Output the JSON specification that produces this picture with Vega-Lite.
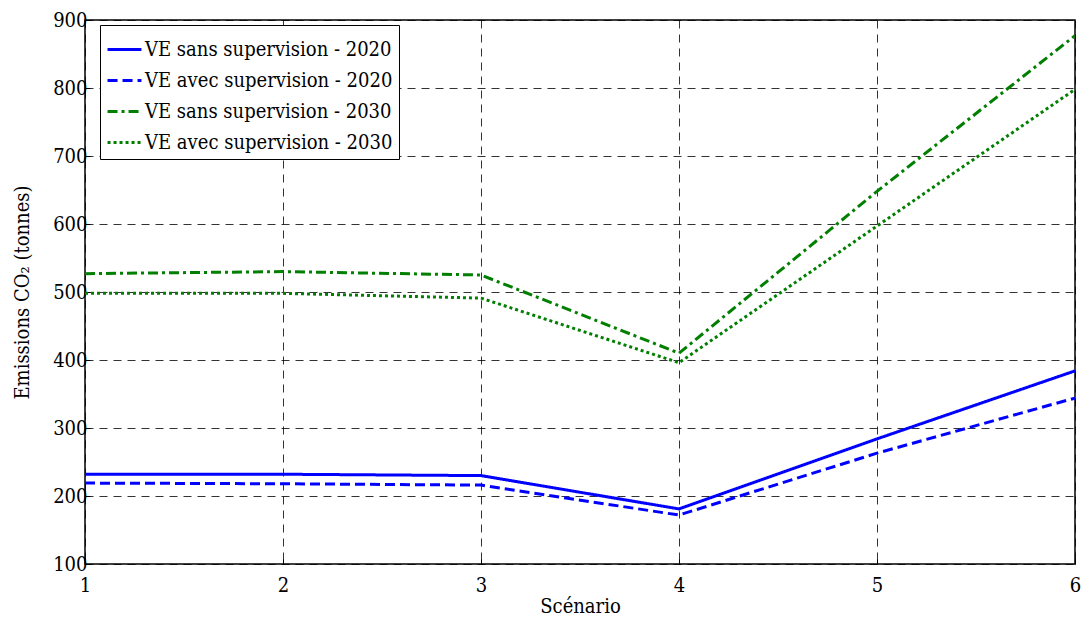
{
  "$schema": "https://vega.github.io/schema/vega-lite/v6.json",
  "width": 990,
  "height": 544,
  "autosize": {"type": "none"},
  "padding": {"left": 85, "top": 20, "right": 8, "bottom": 57},
  "background": "white",
  "config": {
    "font": "DejaVu Serif Condensed",
    "view": {"stroke": "black", "strokeWidth": 1.5},
    "axis": {
      "grid": true,
      "gridColor": "black",
      "gridDash": [8, 6],
      "gridOpacity": 0.8,
      "gridWidth": 1,
      "domain": false,
      "tickColor": "black",
      "tickSize": 5,
      "labelColor": "black",
      "titleColor": "black",
      "labelFont": "DejaVu Serif Condensed",
      "titleFont": "DejaVu Serif Condensed",
      "labelFontSize": 20,
      "titleFontSize": 20,
      "titleFontWeight": "normal"
    }
  },
  "data": {
    "values": [
      {"scenario": 1, "v": 232, "serie": "VE sans supervision - 2020"},
      {"scenario": 2, "v": 232, "serie": "VE sans supervision - 2020"},
      {"scenario": 3, "v": 230, "serie": "VE sans supervision - 2020"},
      {"scenario": 4, "v": 181, "serie": "VE sans supervision - 2020"},
      {"scenario": 5, "v": 284, "serie": "VE sans supervision - 2020"},
      {"scenario": 6, "v": 384, "serie": "VE sans supervision - 2020"},
      {"scenario": 1, "v": 219, "serie": "VE avec supervision - 2020"},
      {"scenario": 2, "v": 218, "serie": "VE avec supervision - 2020"},
      {"scenario": 3, "v": 216, "serie": "VE avec supervision - 2020"},
      {"scenario": 4, "v": 172, "serie": "VE avec supervision - 2020"},
      {"scenario": 5, "v": 263, "serie": "VE avec supervision - 2020"},
      {"scenario": 6, "v": 344, "serie": "VE avec supervision - 2020"},
      {"scenario": 1, "v": 527, "serie": "VE sans supervision - 2030"},
      {"scenario": 2, "v": 530, "serie": "VE sans supervision - 2030"},
      {"scenario": 3, "v": 525, "serie": "VE sans supervision - 2030"},
      {"scenario": 4, "v": 410, "serie": "VE sans supervision - 2030"},
      {"scenario": 5, "v": 648, "serie": "VE sans supervision - 2030"},
      {"scenario": 6, "v": 877, "serie": "VE sans supervision - 2030"},
      {"scenario": 1, "v": 498, "serie": "VE avec supervision - 2030"},
      {"scenario": 2, "v": 498, "serie": "VE avec supervision - 2030"},
      {"scenario": 3, "v": 491, "serie": "VE avec supervision - 2030"},
      {"scenario": 4, "v": 396, "serie": "VE avec supervision - 2030"},
      {"scenario": 5, "v": 597, "serie": "VE avec supervision - 2030"},
      {"scenario": 6, "v": 798, "serie": "VE avec supervision - 2030"}
    ]
  },
  "mark": {"type": "line", "strokeWidth": 3, "clip": true},
  "encoding": {
    "x": {
      "field": "scenario",
      "type": "quantitative",
      "scale": {"domain": [1, 6], "nice": false, "zero": false},
      "axis": {"values": [1, 2, 3, 4, 5, 6], "title": "Scénario", "titlePadding": 1, "labelPadding": 16, "tickSize": -5, "labelFlush": false}
    },
    "y": {
      "field": "v",
      "type": "quantitative",
      "scale": {"domain": [100, 900], "nice": false, "zero": false},
      "axis": {"values": [100, 200, 300, 400, 500, 600, 700, 800, 900], "title": "Emissions CO₂ (tonnes)", "titlePadding": 20, "labelPadding": 3, "tickSize": -5, "labelFlush": false}
    },
    "color": {
      "field": "serie",
      "type": "nominal",
      "sort": ["VE sans supervision - 2020", "VE avec supervision - 2020", "VE sans supervision - 2030", "VE avec supervision - 2030"],
      "scale": {
        "domain": ["VE sans supervision - 2020", "VE avec supervision - 2020", "VE sans supervision - 2030", "VE avec supervision - 2030"],
        "range": ["#0000ff", "#0000ff", "#007f00", "#007f00"]
      },
      "legend": {
        "title": null,
        "orient": "none",
        "legendX": 15,
        "legendY": 5,
        "fillColor": "white",
        "strokeColor": "black",
        "padding": 6,
        "symbolType": "stroke",
        "symbolSize": 1150,
        "symbolStrokeWidth": 3,
        "labelFontSize": 20,
        "labelFont": "DejaVu Serif Condensed",
        "labelColor": "black",
        "rowPadding": 2,
        "labelOffset": 2,
        "labelLimit": 400
      }
    },
    "strokeDash": {
      "field": "serie",
      "type": "nominal",
      "sort": ["VE sans supervision - 2020", "VE avec supervision - 2020", "VE sans supervision - 2030", "VE avec supervision - 2030"],
      "scale": {
        "domain": ["VE sans supervision - 2020", "VE avec supervision - 2020", "VE sans supervision - 2030", "VE avec supervision - 2030"],
        "range": [[1, 0], [10, 5], [10, 4, 3, 4], [3, 3]]
      },
      "legend": null
    }
  }
}
